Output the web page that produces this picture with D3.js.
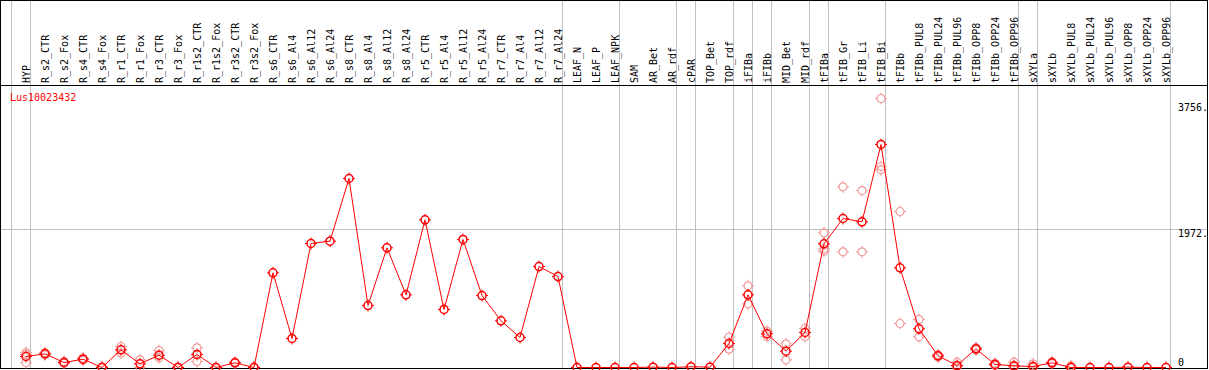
<!DOCTYPE html>
<html>
<head>
<meta charset="utf-8">
<script src="https://cdn.jsdelivr.net/npm/d3@7"></script>
<style>
  body { margin: 0; background: #fff; }
  svg { display: block; }
  text { font-family: "DejaVu Sans Mono", monospace; font-size: 10px; }
</style>
</head>
<body>
<svg id="chart" width="1209" height="370"></svg>
<script>
const categories = [
  "HYP", "R_s2_CTR", "R_s2_Fox", "R_s4_CTR", "R_s4_Fox", "R_r1_CTR", "R_r1_Fox",
  "R_r3_CTR", "R_r3_Fox", "R_r1s2_CTR", "R_r1s2_Fox", "R_r3s2_CTR", "R_r3s2_Fox",
  "R_s6_CTR", "R_s6_Al4", "R_s6_Al12", "R_s6_Al24", "R_s8_CTR", "R_s8_Al4", "R_s8_Al12",
  "R_s8_Al24", "R_r5_CTR", "R_r5_Al4", "R_r5_Al12", "R_r5_Al24", "R_r7_CTR", "R_r7_Al4",
  "R_r7_Al12", "R_r7_Al24", "LEAF_N", "LEAF_P", "LEAF_NPK", "SAM", "AR_Bet", "AR_rdf",
  "cPAR", "TOP_Bet", "TOP_rdf", "iFIBa", "iFIBb", "MID_Bet", "MID_rdf", "tFIBa",
  "tFIB_Gr", "tFIB_Li", "tFIB_Bi", "tFIBb", "tFIBb_PUL8", "tFIBb_PUL24", "tFIBb_PUL96",
  "tFIBb_OPP8", "tFIBb_OPP24", "tFIBb_OPP96", "sXYLa", "sXYLb", "sXYLb_PUL8",
  "sXYLb_PUL24", "sXYLb_PUL96", "sXYLb_OPP8", "sXYLb_OPP24", "sXYLb_OPP96"
];

// mean expression per sample
const meanValues = [
  156, 194, 71, 118, 0, 251, 52, 175, 0, 185, 0, 67, 0,
  1345, 412, 1761, 1794, 2684, 880, 1700, 1032, 2097, 824, 1818, 1022, 663, 426, 1434, 1292,
  0, 0, 0, 0, 5, 0, 10, 5, 341, 1032, 478, 232, 497,
  1757, 2116, 2069, 3167, 1416, 550, 166, 28, 265, 43, 24,
  14, 67, 0, 0, 0, 5, 0, 0
];

// individual replicates (pale markers)
const replicateValues = [
  [213, 185, 71], [210, 180], [85, 60], [135, 105], [10, 0], [298, 203], [109, 0],
  [241, 138], [5, 0], [280, 85], [0, 0], [75, 60], [5, 0],
  [], [], [], [], [], [], [], [], [], [], [], [], [], [], [], [],
  [], [], [], [], [], [], [], [], [430, 260], [1160, 904], [515, 440], [336, 109], [554, 440],
  [1913, 1686, 1652], [2566, 1643], [2513, 1643], [3820, 2854, 2807], [2215, 625],
  [682, 436], [180, 150], [75, 10], [280, 250], [60, 30], [75, 10],
  [52, 5], [80, 55], [24, 0], [], [], [], [], []
];

// index of last sample in each group (-1 = left edge)
const groupEnds = [-1, 0, 28, 31, 34, 35, 37, 38, 39, 41, 42, 45, 52, 53, 60];

const yTicks = [0, 1972, 3756];
const yTickLabels = ["0", "1972.", "3756."];
const geneName = "Lus10023432";

const width = 1209, height = 370;
const plotBottom = 367.5, headerBottom = 85.5;

const svg = d3.select("#chart");

const x = d3.scalePoint()
  .domain(categories)
  .range([26, 1166]);

const y = d3.scaleLinear()
  .domain([0, 3756])
  .range([plotBottom, 103]);

// grid
svg.append("g")
  .selectAll("line")
  .data(groupEnds)
  .join("line")
  .attr("x1", d => (d < 0 ? x(categories[0]) - x.step() : x(categories[d])) + 4.5)
  .attr("x2", d => (d < 0 ? x(categories[0]) - x.step() : x(categories[d])) + 4.5)
  .attr("y1", 0)
  .attr("y2", 368)
  .attr("stroke", "#c0c0c0");

svg.append("line")
  .attr("x1", 0).attr("x2", 1207)
  .attr("y1", Math.round(y(1972)) + 0.5)
  .attr("y2", Math.round(y(1972)) + 0.5)
  .attr("stroke", "#c0c0c0");

// frame
svg.append("rect")
  .attr("x", 0.5).attr("y", 0.5)
  .attr("width", 1207).attr("height", 368)
  .attr("fill", "none")
  .attr("stroke", "#000");

svg.append("line")
  .attr("x1", 0).attr("x2", 1208)
  .attr("y1", headerBottom).attr("y2", headerBottom)
  .attr("stroke", "#000");

// column labels
svg.append("g")
  .selectAll("text")
  .data(categories)
  .join("text")
  .attr("transform", d => `translate(${x(d) + 3.5},83) rotate(-90)`)
  .attr("fill", "#000")
  .text(d => d);

// marker: open circle with small ticks
function marker(sel, color, sw) {
  sel.append("circle")
    .attr("r", 4)
    .attr("fill", "none")
    .attr("stroke", color)
    .attr("stroke-width", sw);
  sel.append("path")
    .attr("d", "M0,-6V-4M0,4V6M-6,0H-4M4,0H6")
    .attr("stroke", color)
    .attr("stroke-width", 1);
}

const reps = [];
replicateValues.forEach((arr, i) => arr.forEach(v => reps.push({ c: categories[i], v })));

svg.append("g")
  .selectAll("g")
  .data(reps)
  .join("g")
  .attr("transform", d => `translate(${x(d.c)},${y(d.v)})`)
  .call(marker, "#f29a9a", 1.2);

const series = categories.map((c, i) => ({ c, v: meanValues[i] }));

svg.append("path")
  .datum(series)
  .attr("fill", "none")
  .attr("stroke", "#ff0000")
  .attr("stroke-width", 1)
  .attr("d", d3.line().x(d => x(d.c)).y(d => y(d.v)));

svg.append("g")
  .selectAll("g")
  .data(series)
  .join("g")
  .attr("transform", d => `translate(${x(d.c)},${y(d.v)})`)
  .call(marker, "#ff0000", 1.5);

// y labels
svg.append("g")
  .selectAll("text")
  .data(yTicks)
  .join("text")
  .attr("x", 1178)
  .attr("y", d => Math.min(y(d) + 8, 366))
  .attr("fill", "#000")
  .text((d, i) => yTickLabels[i]);

svg.append("text")
  .attr("x", 10)
  .attr("y", 101)
  .attr("fill", "#ff0000")
  .text(geneName);
</script>
</body>
</html>
